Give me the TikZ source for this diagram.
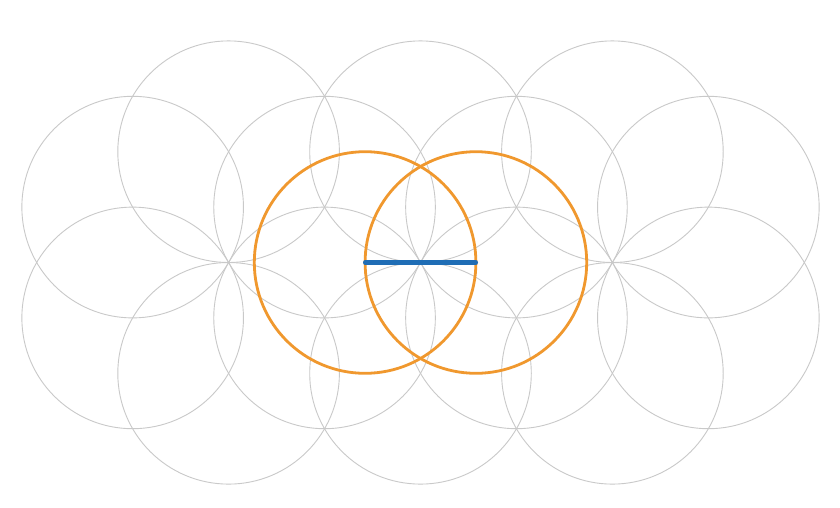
\documentclass[tikz,border=0pt]{standalone}
\usepackage{tikz}
\definecolor{petalgray}{HTML}{C9C9C9}
\definecolor{ringorange}{HTML}{F0982E}
\definecolor{segblue}{HTML}{1F6DB5}
\begin{document}
\begin{tikzpicture}[x=1pt,y=-1pt]
        \tikzset{petal/.style = {draw=petalgray, line width=0.9pt}}
        \tikzset{ring/.style = {draw=ringorange, line width=2.8pt}}
        \tikzset{radius seg/.style = {draw=segblue, line width=4.2pt, line cap=round}}

        \fill[white] (0,0) rectangle (840,507);
        \useasboundingbox (0,0) rectangle (840,507);

        % grey circles of the lattice
        \foreach \k/\m in {-3/0.5, -3/-0.5, -2/1, -2/-1, -1/0.5, -1/-0.5, 0/1,
                           0/-1, 1/0.5, 1/-0.5, 2/1, 2/-1, 3/0.5, 3/-0.5}
          \draw[petal] (420.5+95.95*\k, 262.5+110.8*\m) circle[radius=110.8];

        \coordinate (left) at (365.1, 262.5);
        \coordinate (right) at (475.9, 262.5);

        \draw[ring] (left) circle[radius=110.8];
        \draw[ring] (right) circle[radius=110.8];
        \draw[radius seg] (left) -- (right);
      \end{tikzpicture}
\end{document}
